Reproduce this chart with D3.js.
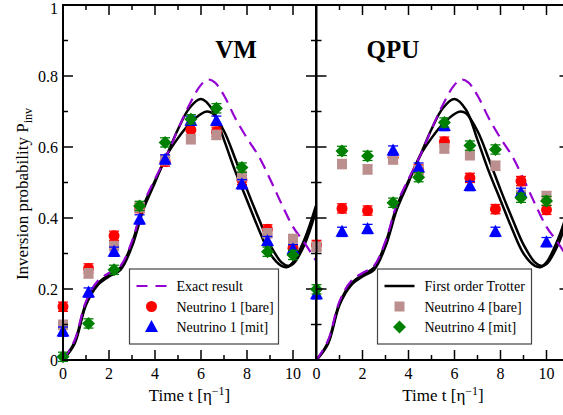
<!DOCTYPE html>
<html>
<head>
<meta charset="utf-8">
<script src="https://cdn.jsdelivr.net/npm/d3@7"></script>
<style>
  body { margin: 0; background: #fff; }
</style>
</head>
<body>
<div id="chart"></div>
<script>
// Measurement times (shared by all data series)
const times = [0, 1.11, 2.22, 3.33, 4.44, 5.56, 6.67, 7.78, 8.89, 10];

// VM panel
const vmNu1Bare = [0.150, 0.258, 0.350, 0.428, 0.559, 0.648, 0.643, 0.507, 0.368, 0.315];
const vmNu1Mit  = [0.080, 0.190, 0.305, 0.396, 0.565, 0.674, 0.674, 0.495, 0.335, 0.312];
const vmNu4Bare = [0.099, 0.244, 0.321, 0.430, 0.563, 0.622, 0.634, 0.518, 0.357, 0.341];
const vmNu4Mit  = [0.009, 0.103, 0.254, 0.434, 0.613, 0.678, 0.709, 0.542, 0.305, 0.296];

// QPU panel
const qpuNu1Bare = [0.324, 0.427, 0.421, 0.571, 0.537, 0.615, 0.513, 0.425, 0.504, 0.423];
const qpuNu1Mit  = [0.185, 0.361, 0.369, 0.590, 0.542, 0.659, 0.490, 0.361, 0.471, 0.332];
const qpuNu4Bare = [0.319, 0.552, 0.537, 0.565, 0.535, 0.596, 0.577, 0.547, 0.465, 0.462];
const qpuNu4Mit  = [0.199, 0.589, 0.575, 0.443, 0.515, 0.669, 0.604, 0.593, 0.457, 0.448];

// Curves
const exactT = [0, 0.5, 1, 1.5, 2, 2.5, 3, 3.5, 4, 4.5, 5, 5.5, 6, 6.3, 6.6, 7, 7.5, 8, 8.5, 9, 9.5, 10, 10.5, 11];
const exactP = [0, 0.055, 0.165, 0.222, 0.245, 0.265, 0.335, 0.44, 0.51, 0.575, 0.65, 0.72, 0.775, 0.79, 0.782, 0.745, 0.68, 0.625, 0.575, 0.51, 0.44, 0.375, 0.33, 0.28];
const trotAT = [0, 0.5, 1, 1.5, 2, 2.5, 3, 3.5, 4, 4.5, 5, 5.5, 6, 6.5, 7, 7.5, 8, 8.5, 9, 9.5, 9.75, 10, 10.5, 11];
const trotAP = [0, 0.05, 0.16, 0.215, 0.24, 0.26, 0.33, 0.435, 0.505, 0.575, 0.65, 0.71, 0.735, 0.705, 0.62, 0.53, 0.45, 0.37, 0.3, 0.265, 0.262, 0.275, 0.34, 0.435];
const trotBT = [0, 0.5, 1, 1.5, 2, 2.5, 3, 3.5, 4, 4.5, 5, 5.5, 6, 6.25, 6.5, 7, 7.5, 8, 8.5, 9, 9.5, 9.8, 10, 10.5, 11];
const trotBP = [0, 0.045, 0.155, 0.21, 0.235, 0.254, 0.32, 0.425, 0.5, 0.575, 0.625, 0.665, 0.693, 0.70, 0.695, 0.645, 0.565, 0.48, 0.4, 0.325, 0.275, 0.265, 0.27, 0.325, 0.42];

const xTicks = [0, 2, 4, 6, 8, 10];
const yTicks = [0, 0.2, 0.4, 0.6, 0.8, 1];

const colors = { nu1Bare: "#ff0000", nu1Mit: "#0000ff", nu4Bare: "#bc8f8f", nu4Mit: "#008000" };
const errSize = 0.013;
const serif = "'Liberation Serif', 'Times New Roman', Times, 'DejaVu Serif', serif";

const svg = d3.select("#chart").append("svg")
    .attr("width", 563)
    .attr("height", 415)
    .attr("font-family", serif)
    .style("font-family", serif);

const y = d3.scaleLinear().domain([0, 1]).range([360, 5]);

const panels = [
    { name: "VM", x0: 63, data: [vmNu1Bare, vmNu4Bare, vmNu1Mit, vmNu4Mit] },
    { name: "QPU", x0: 316.5, data: [qpuNu1Bare, qpuNu4Bare, qpuNu1Mit, qpuNu4Mit] }
];
const seriesKeys = ["nu1Bare", "nu4Bare", "nu1Mit", "nu4Mit"];

function marker(g, key, cx, cy) {
    const c = colors[key];
    if (key === "nu1Bare") {
        g.append("circle").attr("cx", cx).attr("cy", cy).attr("r", 5.5).attr("fill", c);
    } else if (key === "nu4Bare") {
        g.append("rect").attr("x", cx - 5).attr("y", cy - 5).attr("width", 10).attr("height", 10).attr("fill", c);
    } else if (key === "nu1Mit") {
        g.append("path").attr("d", `M${cx},${cy - 7}L${cx + 6.5},${cy + 5}L${cx - 6.5},${cy + 5}Z`).attr("fill", c);
    } else {
        g.append("path").attr("d", `M${cx},${cy - 6.5}L${cx + 6.5},${cy}L${cx},${cy + 6.5}L${cx - 6.5},${cy}Z`).attr("fill", c);
    }
}

panels.forEach((p, pi) => {
    const x = d3.scaleLinear().domain([0, 11]).range([p.x0, p.x0 + 253]);
    const g = svg.append("g");

    // Clip so the curves stay inside their panel
    svg.append("clipPath").attr("id", "clip" + pi)
        .append("rect").attr("x", x(0)).attr("y", 5).attr("width", x(11) - x(0)).attr("height", 355);
    const plot = g.append("g").attr("clip-path", `url(#clip${pi})`);

    const line = d3.line().curve(d3.curveCatmullRom.alpha(0.5));
    plot.append("path")
        .attr("d", line(trotAT.map((t, i) => [x(t), y(trotAP[i])])))
        .attr("fill", "none").attr("stroke", "#000").attr("stroke-width", 2.5);
    plot.append("path")
        .attr("d", line(trotBT.map((t, i) => [x(t), y(trotBP[i])])))
        .attr("fill", "none").attr("stroke", "#000").attr("stroke-width", 2.5);
    plot.append("path")
        .attr("d", line(exactT.map((t, i) => [x(t), y(exactP[i])])))
        .attr("fill", "none").attr("stroke", "#9400d3").attr("stroke-width", 2.2)
        .attr("stroke-dasharray", "12,7");

    // Data points with error bars
    p.data.forEach((vals, si) => {
        const key = seriesKeys[si];
        const sg = g.append("g");
        vals.forEach((v, i) => {
            const cx = x(times[i]);
            sg.append("line").attr("x1", cx).attr("x2", cx)
                .attr("y1", y(v - errSize)).attr("y2", y(v + errSize))
                .attr("stroke", colors[key]).attr("stroke-width", 1.3);
            [v - errSize, v + errSize].forEach(e => {
                sg.append("line").attr("x1", cx - 5).attr("x2", cx + 5)
                    .attr("y1", y(e)).attr("y2", y(e))
                    .attr("stroke", colors[key]).attr("stroke-width", 1.3);
            });
            marker(sg, key, cx, y(v));
        });
    });

    // Frame and inward ticks
    const frame = g.append("g").attr("stroke", "#000");
    const xl = x(0), xr = x(11);
    frame.append("rect").attr("x", xl).attr("y", 5).attr("width", xr - xl).attr("height", 355)
        .attr("fill", "none").attr("stroke-width", 2);
    d3.range(1, 11).forEach(t => {
        const len = t % 2 === 0 ? 10 : 5;
        frame.append("line").attr("x1", x(t)).attr("x2", x(t)).attr("y1", 360).attr("y2", 360 - len).attr("stroke-width", 1.5);
        frame.append("line").attr("x1", x(t)).attr("x2", x(t)).attr("y1", 5).attr("y2", 5 + len).attr("stroke-width", 1.5);
    });
    d3.range(1, 10).forEach(k => {
        const v = k / 10;
        const len = k % 2 === 0 ? 10 : 5;
        frame.append("line").attr("x1", xl).attr("x2", xl + len).attr("y1", y(v)).attr("y2", y(v)).attr("stroke-width", 1.5);
        frame.append("line").attr("x1", xr).attr("x2", xr - len).attr("y1", y(v)).attr("y2", y(v)).attr("stroke-width", 1.5);
    });

    // X tick labels
    g.selectAll("text.xtick").data(xTicks).enter().append("text")
        .attr("x", d => x(d)).attr("y", 379)
        .attr("text-anchor", "middle").attr("font-size", 16)
        .text(d => d);

    // X axis title
    const xt = g.append("text").attr("x", (x(0) + x(11)) / 2).attr("y", 401)
        .attr("text-anchor", "middle").attr("font-size", 17);
    xt.append("tspan").text("Time t [η");
    xt.append("tspan").attr("dy", -6).attr("font-size", 12).text("−1");
    xt.append("tspan").attr("dy", 6).text("]");

    // Panel title
    g.append("text").attr("x", pi === 0 ? 236 : 393).attr("y", 58)
        .attr("text-anchor", "middle").attr("font-size", 25).attr("font-weight", "bold")
        .text(p.name);
});

// Y tick labels and title
svg.selectAll("text.ytick").data(yTicks).enter().append("text")
    .attr("x", 58).attr("y", d => d === 1 ? y(d) + 9 : y(d) + 5.5)
    .attr("text-anchor", "end").attr("font-size", 16)
    .text(d => d === 0 || d === 1 ? d : d.toFixed(1));

const yt = svg.append("text").attr("transform", "translate(28,194) rotate(-90)")
    .attr("text-anchor", "middle").attr("font-size", 17);
yt.append("tspan").text("Inversion probability P");
yt.append("tspan").attr("dy", 4).attr("font-size", 12).text("inv");

// Legends
function legendBox(x0, x1, entries) {
    const lg = svg.append("g");
    lg.append("rect").attr("x", x0).attr("y", 269).attr("width", x1 - x0).attr("height", 75)
        .attr("fill", "#fff").attr("stroke", "#444").attr("stroke-width", 1.2);
    entries.forEach((e, i) => {
        const cy = 286 + i * 20.5;
        const sx = x0 + 22;
        if (e.type === "line") {
            lg.append("line").attr("x1", sx - 15).attr("x2", sx + 15).attr("y1", cy).attr("y2", cy)
                .attr("stroke", e.color).attr("stroke-width", e.dash ? 2.2 : 2.5)
                .attr("stroke-dasharray", e.dash ? "11,8" : null);
        } else {
            marker(lg, e.key, sx, cy);
        }
        lg.append("text").attr("x", x0 + 47).attr("y", cy + 5).attr("font-size", 14).text(e.label);
    });
}

legendBox(129.5, 278.5, [
    { type: "line", color: "#9400d3", dash: true, label: "Exact result" },
    { type: "marker", key: "nu1Bare", label: "Neutrino 1 [bare]" },
    { type: "marker", key: "nu1Mit", label: "Neutrino 1 [mit]" }
]);
legendBox(377.5, 531.5, [
    { type: "line", color: "#000", dash: false, label: "First order Trotter" },
    { type: "marker", key: "nu4Bare", label: "Neutrino 4 [bare]" },
    { type: "marker", key: "nu4Mit", label: "Neutrino 4 [mit]" }
]);
</script>
</body>
</html>
